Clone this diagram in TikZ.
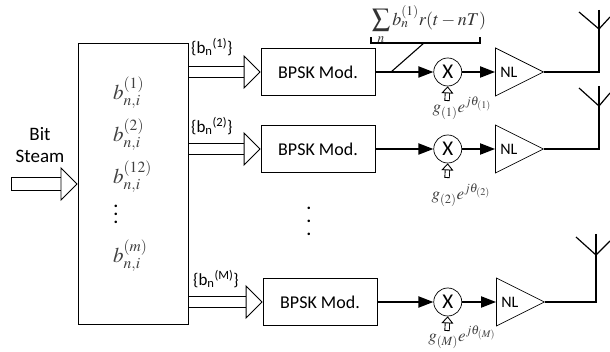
\documentclass[tikz,border=0pt]{standalone}
\usepackage{mathptmx}
\usepackage[no-math]{fontspec}
\setmainfont{Carlito}
\usetikzlibrary{positioning}
\usetikzlibrary{arrows.meta}
\usetikzlibrary{shapes.geometric}

\begin{document}
\begin{tikzpicture}[%
			x=1pt, y=-1pt,
			modbox/.style={draw, line width=0.8pt, inner sep=0pt, minimum width=114pt, minimum height=47pt, font=\fontsize{18}{20}\selectfont},
			mixer/.style={draw, circle, line width=0.7pt, inner sep=0pt, minimum size=28pt, font=\fontsize{21}{23}\selectfont},
			amp/.style={draw, isosceles triangle, isosceles triangle stretches, line width=0.7pt, inner sep=0pt, minimum width=48pt, minimum height=48pt},
			amplabel/.style={inner sep=0pt, font=\fontsize{16}{18}\selectfont},
			bits/.style={anchor=west, inner sep=0pt, text=black!75, font=\fontsize{21}{23}\selectfont},
			gain/.style={inner sep=0pt, text=black!75, font=\fontsize{17}{19}\selectfont},
			stream/.style={inner sep=0pt, anchor=west, font=\fontsize{17}{19}\selectfont},
			bigarrow/.style={double, line width=0.9pt, double distance=10.5pt, shorten <=0.6pt, -{Triangle[open, fill=white, line width=0.9pt, length=17pt, width=34pt]}},
			inarrow/.style={double, line width=0.9pt, double distance=12pt, {Bar[width=14pt, line width=0.9pt]}-{Triangle[open, fill=white, line width=0.9pt, length=17pt, width=34pt]}},
			tinyarrow/.style={double, line width=0.9pt, double distance=3.5pt, {Bar[width=5.3pt, line width=0.9pt]}-{Triangle[open, fill=white, line width=0.9pt, length=7pt, width=12pt]}},
			signal/.style={line width=2pt, -{Triangle[length=15pt, width=11pt]}},
			wire/.style={line width=2pt},
			aerial/.style={line width=1.2pt}]
			\useasboundingbox (0,0) rectangle (610,352);
			\node[draw, line width=0.9pt, inner sep=0pt, minimum width=110pt, minimum height=281pt](split) at (133,183.5){};
			\node[bits](bone) at (113,93){$b_{n,i}^{(1)}$};
			\node[bits](btwo) at (113,135){$b_{n,i}^{(2)}$};
			\node[bits](btwelve) at (113,177){$b_{n,i}^{(12)}$};
			\node[align=center, inner sep=0pt, font=\bfseries\fontsize{17}{8}\selectfont](splitdots) at (116,214){.\\.\\.};
			\node[bits](bm) at (113,256){$b_{n,i}^{(m)}$};
			\node[align=center, inner sep=0pt, font=\fontsize{19}{22}\selectfont](bitsteam) at (40,145){Bit\\Steam};
			\coordinate (input) at (11,184);
			\draw[inarrow] (input) -- (split.west |- input);
			% the three branches
			\node[modbox](mod1) at (318,72){BPSK Mod.};
			\node[modbox](mod2) at (318,149){BPSK Mod.};
			\node[modbox](mod3) at (320,302){BPSK Mod.};
			\node[mixer, right=58pt of mod1](mix1){X};
			\node[mixer, right=58pt of mod2](mix2){X};
			\node[mixer, right=56pt of mod3](mix3){X};
			\node[amp, right=33pt of mix1](amp1){};
			\node[amp, right=33pt of mix2](amp2){};
			\node[amp, right=34pt of mix3](amp3){};
			\node[amplabel, right=5pt of amp1.west](nl1){NL};
			\node[amplabel, right=5pt of amp2.west](nl2){NL};
			\node[amplabel, right=5pt of amp3.west](nl3){NL};
			\draw[bigarrow] (split.east |- mod1.west) -- (mod1.west);
			\draw[bigarrow] (split.east |- mod2.west) -- (mod2.west);
			\draw[bigarrow] (split.east |- mod3.west) -- (mod3.west);
			\node[stream](s1) at (191,47){\{b\textsubscript{n}\textsuperscript{(1)}\}};
			\node[stream](s2) at (191,126){\{b\textsubscript{n}\textsuperscript{(2)}\}};
			\node[stream](s3) at (193,279){\{b\textsubscript{n}\textsuperscript{(M)}\}};
			\node[align=center, inner sep=0pt, font=\bfseries\fontsize{17}{13}\selectfont](moddots) at (309,221){.\\.\\.};
			\foreach \i in {1,2,3}{
				\draw[signal] (mod\i) -- (mix\i);
				\draw[signal] (mix\i) -- (amp\i);
			}
			% gains
			\coordinate (up1) at (447,101);
			\coordinate (up2) at (447,178);
			\coordinate (up3) at (447,331);
			\draw[tinyarrow] (up1) -- (mix1.south);
			\draw[tinyarrow] (up2) -- (mix2.south);
			\draw[tinyarrow] (up3) -- (mix3.south);
			\node[gain](g1) at (462,108){$g_{(1)}e^{j\theta_{(1)}}$};
			\node[gain](g2) at (461,195){$g_{(2)}e^{j\theta_{(2)}}$};
			\node[gain](g3) at (462,337){$g_{(M)}e^{j\theta_{(M)}}$};
			% pulse shaping label
			\node[inner sep=0pt, text=black!80, font=\fontsize{18}{20}\selectfont](pulse) at (429,25){$\displaystyle\sum_n b_n^{(1)} r(t-nT)$};
			\coordinate (braceleft) at (371,43);
			\coordinate (braceright) at (480,43);
			\coordinate (bracefoot) at (391,72);
			\coordinate (bracejoin) at (424,43);
			\draw[line width=1.1pt] (371,37) -- (braceleft) -- (braceright) -- (480,37);
			\draw[line width=1.1pt] (bracefoot) -- (bracejoin);
			% antennas
			\coordinate (ant1) at (599,29);
			\coordinate (ant2) at (599,106);
			\coordinate (ant3) at (596,255);
			\draw[wire] (amp1.apex) -| (ant1);
			\draw[wire] (amp2.apex) -| (ant2);
			\draw[wire] (amp3.apex) -| (ant3);
			\coordinate (top1) at (599,10);
			\coordinate (top2) at (599,86);
			\coordinate (top3) at (596,234);
			\coordinate (left1) at (579,12);
			\coordinate (left2) at (579,88);
			\coordinate (left3) at (576,237);
			\coordinate (right1) at (610,17);
			\coordinate (right2) at (610,93);
			\coordinate (right3) at (610,241);
			\foreach \i in {1,2,3}{
				\draw[aerial] (top\i) -- (ant\i);
				\draw[aerial] (left\i) -- (ant\i) -- (right\i);
			}
	\end{tikzpicture}
\end{document}
